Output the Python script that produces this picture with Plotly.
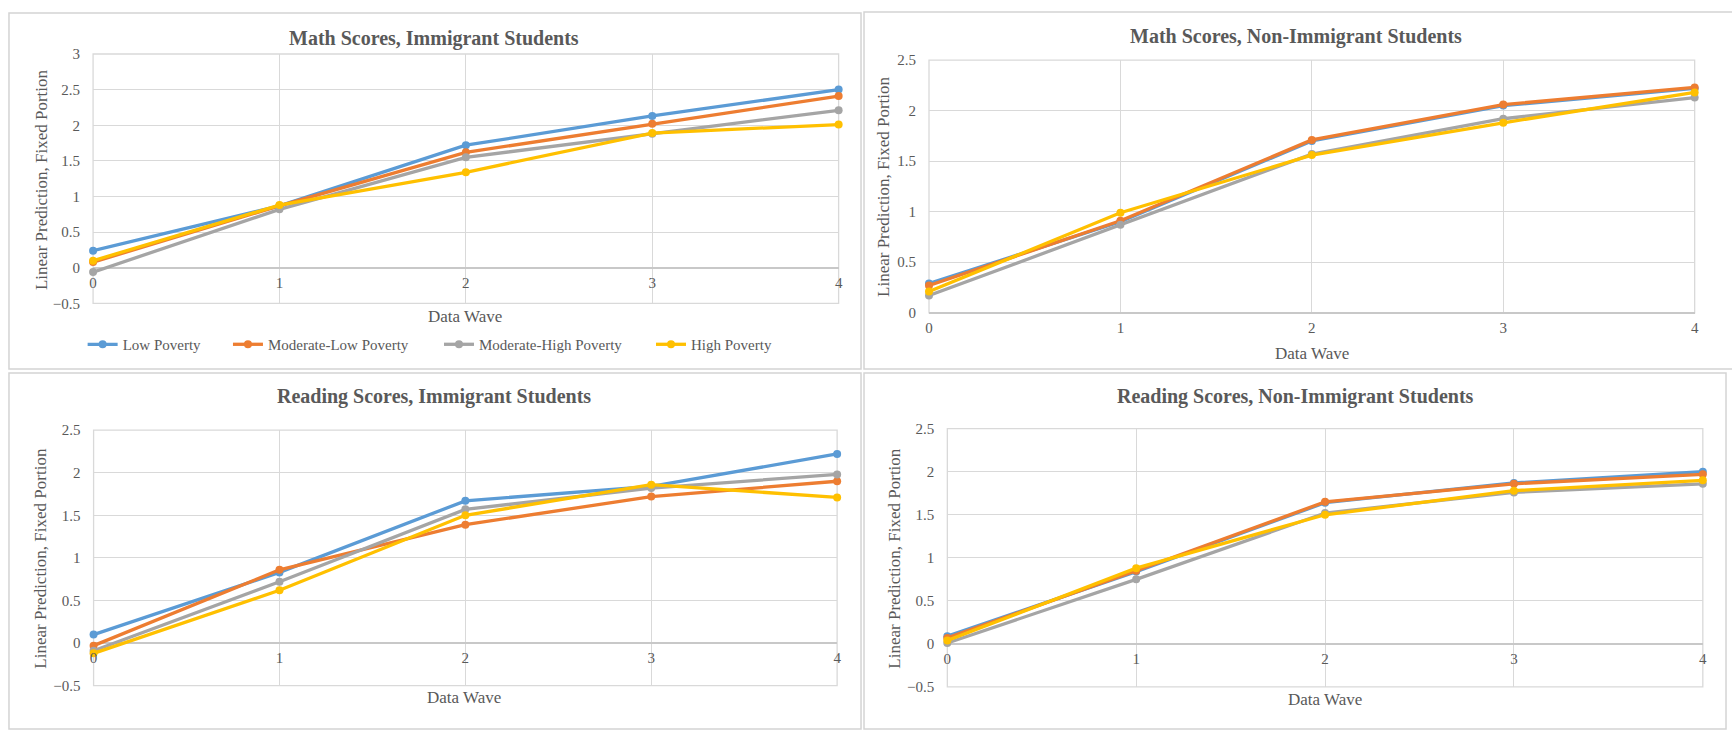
import plotly.graph_objects as go

W, H = 1732, 738

waves = [0, 1, 2, 3, 4]
x_tick_labels = ["0", "1", "2", "3", "4"]
series_names = ["Low Poverty", "Moderate-Low Poverty", "Moderate-High Poverty", "High Poverty"]
colors = ["#5B9BD5", "#ED7D31", "#A5A5A5", "#FFC000"]

math_imm_low = [0.24, 0.87, 1.72, 2.13, 2.50]
math_imm_modlow = [0.08, 0.87, 1.62, 2.02, 2.41]
math_imm_modhigh = [-0.06, 0.82, 1.55, 1.88, 2.21]
math_imm_high = [0.10, 0.88, 1.34, 1.89, 2.01]

math_non_low = [0.29, 0.90, 1.70, 2.05, 2.22]
math_non_modlow = [0.27, 0.91, 1.71, 2.06, 2.23]
math_non_modhigh = [0.17, 0.87, 1.57, 1.92, 2.13]
math_non_high = [0.21, 0.99, 1.56, 1.88, 2.18]

read_imm_low = [0.10, 0.83, 1.67, 1.84, 2.22]
read_imm_modlow = [-0.03, 0.86, 1.39, 1.72, 1.90]
read_imm_modhigh = [-0.09, 0.72, 1.57, 1.82, 1.98]
read_imm_high = [-0.12, 0.62, 1.50, 1.86, 1.71]

read_non_low = [0.09, 0.84, 1.64, 1.87, 2.00]
read_non_modlow = [0.07, 0.85, 1.65, 1.86, 1.97]
read_non_modhigh = [0.01, 0.75, 1.52, 1.76, 1.86]
read_non_high = [0.04, 0.88, 1.50, 1.78, 1.90]

titles = ["Math Scores, Immigrant Students", "Math Scores, Non-Immigrant Students",
          "Reading Scores, Immigrant Students", "Reading Scores, Non-Immigrant Students"]
y_title = "Linear Prediction, Fixed Portion"
x_title = "Data Wave"

panels_data = [
    [math_imm_low, math_imm_modlow, math_imm_modhigh, math_imm_high],
    [math_non_low, math_non_modlow, math_non_modhigh, math_non_high],
    [read_imm_low, read_imm_modlow, read_imm_modhigh, read_imm_high],
    [read_non_low, read_non_modlow, read_non_modhigh, read_non_high],
]
y_ranges = [[-0.5, 3], [0, 2.5], [-0.5, 2.5], [-0.5, 2.5]]

# layout geometry in pixels
plot_x = [(89.5, 838.5), (929.3, 1698.5), (90, 837), (947.7, 1706.7)]
plot_y = [(47, 302), (53.3, 311.5), (431.5, 692.7), (430, 694)]  # top, bottom
title_pos = [(432, 31), (1298, 29), (432, 397), (1297, 397)]
ytitle_pos = [(37, 175), (883, 182), (37, 562), (895, 562)]
xtitle_pos = [(463, 315), (1314, 353), (462, 705), (1327, 707)]
frames = [(5, 5, 861, 369), (864, 4, 1740, 369), (5, 373, 861, 737), (864, 373, 1730, 737)]
legend_x = [79, 225, 437, 650]
legend_y = 344

def fx(px):
    return px / W

def fy(py):
    return 1 - py / H

TEXT = "#595959"
GRID = "#D9D9D9"
FONT = "Liberation Serif"

fig = go.Figure()
layout = dict(
    width=W, height=H, margin=dict(l=0, r=0, t=0, b=0),
    paper_bgcolor="white", plot_bgcolor="white",
    font=dict(family=FONT, color=TEXT, size=15),
    showlegend=True,
)
legend_keys = ["legend", "legend2", "legend3", "legend4"]
for k, lx in zip(legend_keys, legend_x):
    layout[k] = dict(orientation="h", x=fx(lx), y=fy(legend_y), xanchor="left", yanchor="middle",
                     font=dict(family=FONT, size=15, color=TEXT), bgcolor="rgba(0,0,0,0)",
                     itemwidth=30)
annotations = []
shapes = []

for i in range(4):
    xa = "x" if i == 0 else f"x{i+1}"
    ya = "y" if i == 0 else f"y{i+1}"
    xkey = "xaxis" if i == 0 else f"xaxis{i+1}"
    ykey = "yaxis" if i == 0 else f"yaxis{i+1}"
    for s in range(4):
        fig.add_trace(go.Scatter(
            x=waves, y=panels_data[i][s], mode="lines+markers", name=series_names[s],
            line=dict(color=colors[s], width=3.3), marker=dict(color=colors[s], size=8),
            xaxis=xa, yaxis=ya, showlegend=(i == 0), legend=legend_keys[s], cliponaxis=False,
            hoverinfo="skip",
        ))
    x0, x1 = plot_x[i]
    ytop, ybot = plot_y[i]
    ymin, ymax = y_ranges[i]
    zero_px = ybot - (0 - ymin) / (ymax - ymin) * (ybot - ytop)
    layout[xkey] = dict(
        domain=[fx(x0), fx(x1)], range=[0, 4], anchor="free", position=fy(zero_px),
        tickmode="array", tickvals=waves, ticktext=x_tick_labels,
        showgrid=True, gridcolor=GRID, gridwidth=1.3, zeroline=False, showline=False,
        ticks="", ticklabelstandoff=4, tickfont=dict(family=FONT, size=15, color=TEXT),
        fixedrange=True,
    )
    layout[ykey] = dict(
        domain=[fy(ybot), fy(ytop)], range=[ymin, ymax], anchor=xa,
        dtick=0.5, tick0=0, showgrid=True, gridcolor=GRID, gridwidth=1.3,
        zeroline=True, zerolinecolor="#C8C8C8", zerolinewidth=1.5, showline=False,
        ticks="", ticklabelstandoff=12, tickfont=dict(family=FONT, size=15, color=TEXT),
        fixedrange=True,
    )
    shapes.append(dict(type="rect", xref=f"{xa} domain", yref=f"{ya} domain",
                       x0=0, x1=1, y0=0, y1=1, line=dict(color=GRID, width=1.3), layer="below"))
    fl, ft, fr, fb = frames[i]
    shapes.append(dict(type="rect", xref="paper", yref="paper",
                       x0=fx(fl), x1=fx(fr), y0=fy(fb), y1=fy(ft),
                       line=dict(color="#D4D4D4", width=1.5), layer="below"))
    tx, ty = title_pos[i]
    annotations.append(dict(text=f"<b>{titles[i]}</b>", x=fx(tx), y=fy(ty), xref="paper", yref="paper",
                            xanchor="center", yanchor="middle", showarrow=False,
                            font=dict(family=FONT, size=20, color=TEXT)))
    yx, yy = ytitle_pos[i]
    annotations.append(dict(text=y_title, x=fx(yx), y=fy(yy), xref="paper", yref="paper",
                            xanchor="center", yanchor="middle", showarrow=False, textangle=-90,
                            font=dict(family=FONT, size=17, color=TEXT)))
    xx, xy = xtitle_pos[i]
    annotations.append(dict(text=x_title, x=fx(xx), y=fy(xy), xref="paper", yref="paper",
                            xanchor="center", yanchor="middle", showarrow=False,
                            font=dict(family=FONT, size=17, color=TEXT)))

layout["annotations"] = annotations
layout["shapes"] = shapes
fig.update_layout(**layout)
fig.write_html("out.html", config={"displayModeBar": False},
               post_script="document.body.style.margin='0';document.body.style.overflow='hidden';")
